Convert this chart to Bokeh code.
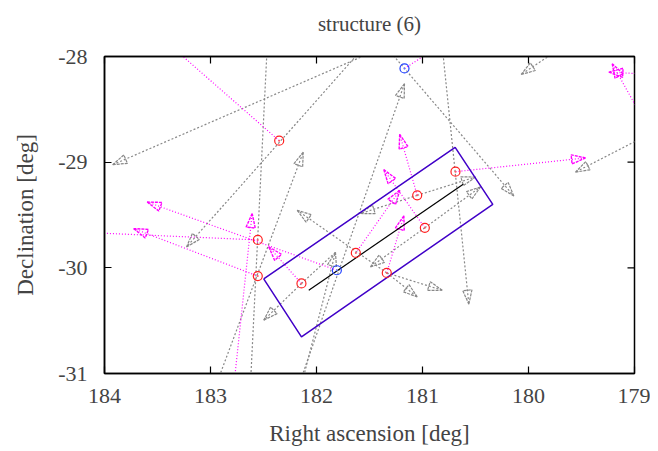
import math
from bokeh.plotting import figure
from bokeh.models import Range1d, FixedTicker, LinearAxis
from bokeh.embed import file_html
from bokeh.resources import INLINE

# ---- data (RA, Dec in degrees) ----
red_ra = [182.352, 180.689, 181.050, 180.978, 181.629, 181.337, 182.554, 182.554, 182.142]
red_dec = [-28.797, -29.090, -29.314, -29.621, -29.859, -30.048, -29.736, -30.078, -30.148]
blue_ra = [181.170, 181.808]
blue_dec = [-28.113, -30.023]

box_ra = [182.498, 180.692, 180.337, 182.142, 182.498]
box_dec = [-30.105, -28.860, -29.399, -30.653, -30.105]

spine_ra = [182.073, 180.616]
spine_dec = [-30.212, -29.210]

# gray arrows: start -> end, head drawn if 1
gray_x0 = [181.481, 181.597, 182.467, 182.930, 182.150, 181.299, 180.810, 179.729, 178.896,
           181.050, 181.050, 180.978, 180.978, 181.337, 181.337, 181.337, 182.142, 182.142, 182.130]
gray_y0 = [-27.962, -27.962, -27.943, -31.062, -31.062, -27.962, -27.943, -27.943, -28.753,
           -29.314, -29.314, -29.621, -29.621, -30.048, -30.048, -30.048, -30.148, -30.148, -31.062]
gray_x1 = [183.922, 183.226, 182.621, 182.125, 181.170, 180.139, 180.563, 180.069, 179.557,
           181.585, 180.500, 180.453, 181.491, 182.182, 181.050, 180.814, 182.497, 181.821, 181.821]
gray_y1 = [-29.024, -29.802, -31.062, -28.905, -28.258, -29.320, -30.344, -28.170, -29.094,
           -29.486, -29.141, -29.235, -29.991, -29.456, -30.275, -30.212, -30.495, -29.853, -29.853]
gray_head = [1, 1, 0, 1, 1, 1, 1, 1, 1, 1, 1, 1, 1, 1, 1, 1, 1, 0, 1]

# magenta arrows
mag_x0 = [182.352, 181.170, 180.689, 181.050, 180.978, 181.629, 181.337, 181.808, 182.554,
          182.142, 182.554, 182.774, 178.849, 178.896]
mag_y0 = [-28.797, -28.113, -29.090, -29.314, -29.621, -29.859, -30.048, -30.023, -30.078,
          -30.148, -29.736, -31.062, -28.168, -28.633]
mag_x1 = [183.528, 180.757, 179.462, 181.215, 181.365, 181.214, 181.176, 183.597, 183.724,
          182.450, 184.321, 182.607, 179.242, 179.210]
mag_y1 = [-27.764, -27.849, -28.960, -28.737, -29.071, -29.267, -29.508, -29.377, -29.629,
          -29.802, -29.659, -29.487, -28.148, -28.069]
mag_head = [0, 0, 1, 1, 1, 1, 1, 1, 1, 1, 0, 1, 1, 1]

xticks = [184, 183, 182, 181, 180, 179]
xtick_labels = ["184", "183", "182", "181", "180", "179"]
yticks = [-31, -30, -29, -28]
ytick_labels = ["-31", "-30", "-29", "-28"]
title_text = "structure (6)"

X_LO, X_HI = 184, 179
Y_LO, Y_HI = -31, -28
FW, FH = 530, 317

FONT = "Liberation Serif"
GRAY = "#888888"
MAG = "#ff00ff"

p = figure(frame_width=FW, frame_height=FH, output_backend="svg", toolbar_location=None,
           x_range=Range1d(X_LO, X_HI), y_range=Range1d(Y_LO, Y_HI),
           min_border_left=104, min_border_right=16, min_border_top=56, min_border_bottom=76)
p.background_fill_color = "white"
p.border_fill_color = "white"
p.grid.visible = False
p.outline_line_color = "black"
p.outline_line_width = 1.5

for ax in (p.xaxis[0], p.yaxis[0]):
    ax.major_label_text_font = FONT
    ax.major_label_text_font_size = "22px"
    ax.axis_label_text_font = FONT
    ax.axis_label_text_font_size = "23px"
    ax.axis_label_text_font_style = "normal"
    ax.major_tick_in = 7
    ax.major_tick_out = 0
    ax.minor_tick_line_color = None
    ax.axis_line_width = 1.5
    ax.major_tick_line_width = 1.2

p.xaxis[0].ticker = FixedTicker(ticks=xticks)
p.xaxis[0].major_label_overrides = dict(zip(xticks, xtick_labels))
p.yaxis[0].ticker = FixedTicker(ticks=yticks)
p.yaxis[0].major_label_overrides = dict(zip(yticks, ytick_labels))
p.xaxis[0].axis_label = "Right ascension [deg]"
p.yaxis[0].axis_label = "Declination [deg]"
p.xaxis[0].major_label_standoff = 15
p.yaxis[0].major_label_standoff = 17
p.xaxis[0].axis_label_standoff = 15
p.yaxis[0].axis_label_standoff = 17

# top mirror axis (inward ticks, no tick labels) carrying the title text
top = LinearAxis(ticker=FixedTicker(ticks=xticks), major_label_text_color=None,
                 major_label_standoff=0, major_tick_in=7, major_tick_out=0,
                 minor_tick_line_color=None, axis_line_width=1.5, major_tick_line_width=1.2,
                 axis_label=title_text, axis_label_standoff=21, axis_label_text_font=FONT,
                 axis_label_text_font_size="21px", axis_label_text_font_style="normal")
p.add_layout(top, "above")

# pixel scale of the frame (screen px per degree)
sx = FW / abs(X_HI - X_LO)
sy = FH / abs(Y_HI - Y_LO)

# right mirror ticks (inward, 7 px)
p.segment(x0=[X_HI] * (len(yticks) - 2), y0=yticks[1:-1], x1=[X_HI + 7 / sx] * (len(yticks) - 2),
          y1=yticks[1:-1], line_color="black", line_width=1.2)

# shafts
p.segment(x0=gray_x0, y0=gray_y0, x1=gray_x1, y1=gray_y1, line_color=GRAY,
          line_width=1.2, line_dash="2 2")
p.segment(x0=mag_x0, y0=mag_y0, x1=mag_x1, y1=mag_y1, line_color=MAG,
          line_width=1.2, line_dash="1 2")


def head_polys(x0, y0, x1, y1, flag, length=14.0, half=4.6):
    xs, ys = [], []
    for a, b, c, d, f in zip(x0, y0, x1, y1, flag):
        if not f:
            continue
        # screen coords (x axis reversed: RA grows to the left)
        ax_, ay_ = -a * sx, b * sy
        cx_, cy_ = -c * sx, d * sy
        dx, dy = cx_ - ax_, cy_ - ay_
        n = math.hypot(dx, dy)
        ux, uy = dx / n, dy / n
        bx, by = cx_ - length * ux, cy_ - length * uy
        px_, py_ = -uy, ux
        pts = [(cx_, cy_), (bx + half * px_, by + half * py_), (bx - half * px_, by - half * py_)]
        xs.append([-q[0] / sx for q in pts])
        ys.append([q[1] / sy for q in pts])
    return xs, ys


ghx, ghy = head_polys(gray_x0, gray_y0, gray_x1, gray_y1, gray_head)
p.patches(ghx, ghy, fill_alpha=0, line_color=GRAY, line_width=1.2, line_dash="3 1")
mhx, mhy = head_polys(mag_x0, mag_y0, mag_x1, mag_y1, mag_head)
p.patches(mhx, mhy, fill_alpha=0, line_color=MAG, line_width=1.4, line_dash="3 1")

# box and spine
p.line(box_ra, box_dec, line_color="#4000c8", line_width=1.5)
p.line(spine_ra, spine_dec, line_color="black", line_width=1.2)

# galaxies
p.scatter(red_ra, red_dec, marker="circle", size=9, fill_alpha=0, line_color="#ff2020", line_width=1.2)
p.scatter(red_ra, red_dec, marker="circle", size=2, fill_color="#ff6060", line_alpha=0)
p.scatter(blue_ra, blue_dec, marker="circle", size=9, fill_alpha=0, line_color="#2040ff", line_width=1.2)
p.scatter(blue_ra, blue_dec, marker="circle", size=2, fill_color="#6080ff", line_alpha=0)

open("out.html", "w").write(file_html(p, INLINE))
